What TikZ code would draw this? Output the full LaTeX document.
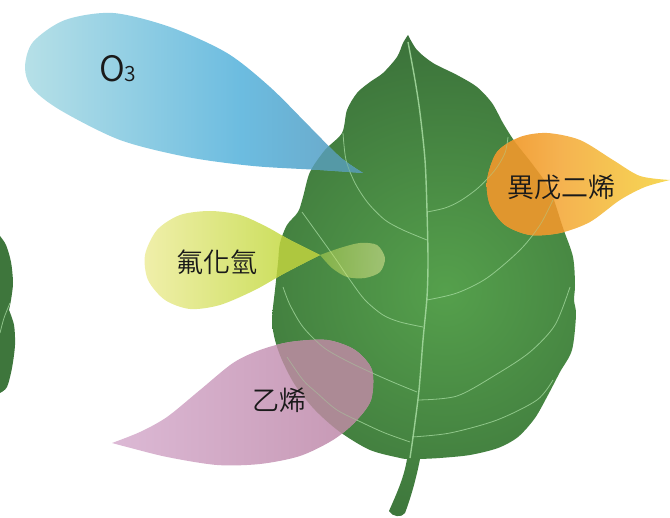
\documentclass[tikz,border=0pt]{standalone}
\usepackage{fontspec}
\newfontfamily\cjk[UprightFont=* DemiLight]{Noto Sans CJK TC}
\definecolor{leafdark}{HTML}{386C38}
\definecolor{leaflight}{HTML}{55A04C}
\definecolor{vein}{HTML}{A8DCA2}
\definecolor{inkc}{HTML}{1A1A1A}
\definecolor{blueA}{HTML}{B6E0E7}
\definecolor{blueB}{HTML}{6CBCE0}
\definecolor{blueC}{HTML}{6AA6C6}
\definecolor{blueleaf}{HTML}{5599A6}
\definecolor{ygA}{HTML}{F0EFAA}
\definecolor{ygB}{HTML}{C4DB4C}
\definecolor{ygleaf}{HTML}{AEC73F}
\definecolor{dropA}{HTML}{C0DC50}
\definecolor{dropB}{HTML}{F0F0A0}
\definecolor{pinkA}{HTML}{DCB9D5}
\definecolor{pinkB}{HTML}{C596B2}
\definecolor{pinkleaf}{HTML}{AC8A95}
\definecolor{orA}{HTML}{F0982F}
\definecolor{orB}{HTML}{F5B250}
\definecolor{orC}{HTML}{F6D855}
\definecolor{orleaf}{HTML}{E0962E}
\pgfdeclarehorizontalshading{o3shade}{100bp}{color(0bp)=(blueA); color(25bp)=(blueA); color(57bp)=(blueB); color(75bp)=(blueC); color(100bp)=(blueC)}
\pgfdeclarehorizontalshading{isoshade}{100bp}{color(0bp)=(orA); color(25bp)=(orA); color(45bp)=(orB); color(75bp)=(orC); color(100bp)=(orC)}
\newcommand\leafoutline{(408,35) -- plot[smooth] coordinates {(408,35) (417,50) (433,63) (457,75) (477,87) (492,103) (503,123) (515,142) (533,165) (550,190) (563,228) (573,257) (575,285) (574,300) (576,315) (572,350) (560,372) (548,395) (535,418) (518,437) (498,448) (470,455) (440,458) (420,459)}
  .. controls (416,480) and (410,500) .. (405,513) .. controls (402,518) and (392,517) .. (389,511) .. controls (396,495) and (404,478) .. (407,459)
  -- plot[smooth] coordinates {(407,459) (400,458) (370,450) (340,432) (315,410) (295,385) (282,360) (275,340) (272,320) (275,290) (278,263) (280,243) (287,225) (298,212) (303,197) (310,172) (325,150) (342,133) (347,110) (357,93) (370,82) (383,73) (397,57) (403,43) (408,35)} -- cycle}
\newcommand\othreeoutline{(363,173) -- plot[smooth] coordinates {(363,173) (340,157) (310,127) (270,87) (227,53) (170,27) (113,13) (65,20) (33,42) (25,67) (32,88) (60,110) (120,140) (187,157) (253,166) (320,170) (363,173)} -- cycle}
\newcommand\hfoutline{(320,255) -- plot[smooth] coordinates {(320,255) (290,240) (267,227) (240,215) (210,211) (180,215) (157,230) (145,255) (148,280) (165,300) (190,309) (220,305) (255,290) (285,273) (320,255)} -- cycle}
\newcommand\ethoutline{(112,443) -- plot[smooth] coordinates {(112,443) (140,432) (167,417) (200,390) (233,363) (260,350) (290,342) (327,340) (355,350) (372,370) (371,400) (355,422) (333,440) (300,456) (260,464) (217,465) (167,457) (127,447) (112,443)} -- cycle}
\newcommand\isooutline{(670,180) -- plot[smooth] coordinates {(670,180) (640,176) (613,160) (580,140) (547,133) (520,137) (497,152) (487,180) (490,205) (505,225) (530,235) (560,233) (590,222) (620,200) (645,187) (670,180)} -- cycle}
% all veins of the main leaf
\newcommand\leafveins[1]{%
\draw[midrib,#1] plot[smooth] coordinates {(408,42) (415,80) (420,113) (425,160) (427,210) (428,260) (427,297) (423,340) (419,390) (414,430) (410,458)};
\draw[veinline,#1] plot[smooth] coordinates {(427,212) (445,208) (460,201) (478,188) (495,170) (505,153) (508,137)};
\draw[veinline,#1] plot[smooth] coordinates {(427,300) (457,293) (487,278) (520,250) (540,225) (553,200)};
\draw[veinline,#1] plot[smooth] coordinates {(418,400) (457,396) (497,374) (530,352) (555,325) (570,287)};
\draw[veinline,#1] plot[smooth] coordinates {(412,437) (450,433) (497,420) (537,400) (553,380)};
\draw[veinline,#1] plot[smooth] coordinates {(427,240) (403,230) (385,220) (368,203) (355,183) (346,160) (343,133)};
\draw[veinline,#1] plot[smooth] coordinates {(423,327) (400,322) (383,315) (365,300) (350,280) (335,258) (320,237) (302,212)};
\draw[veinline,#1] plot[smooth] coordinates {(417,392) (395,383) (370,372) (345,360) (323,347) (303,327) (290,305) (283,287)};
\draw[veinline,#1] plot[smooth] coordinates {(410,442) (385,433) (363,423) (337,410) (317,393) (303,380) (287,357)};}
% a bubble where it lies on the leaf: flat tint with faint veins
\newcommand\leafoverlap[2]{%
\begin{scope}
  \clip #1;
  \clip \leafoutline;
  \fill[#2] (0,0) rectangle (670,518);
  \leafveins{opacity=0.4}
\end{scope}}
\begin{document}
\begin{tikzpicture}[x=1pt,y=-1pt,
  veinline/.style={draw=vein, line width=0.8pt, opacity=0.75},
  midrib/.style={draw=vein, line width=1.4pt, opacity=0.85},
  label/.style={text=inkc, inner sep=0pt, font=\cjk\fontsize{27}{30}\selectfont}]
\useasboundingbox (0,0) rectangle (670,518);

% partial leaf at the left border
\fill[leafdark!80!leaflight] (0,236) -- plot[smooth] coordinates {(0,236) (6,245) (11,262) (13,283) (11,300) (9,310)}
  -- plot[smooth] coordinates {(9,310) (14,325) (15,345) (12,368) (7,387) (0,393)} -- cycle;
\draw[veinline] plot[smooth] coordinates {(10,303) (4,318) (0,333)};

% main leaf
\begin{scope}
  \clip \leafoutline;
  \shade[inner color=leaflight, outer color=leafdark] (445,290) circle[radius=290];
\end{scope}
\leafveins{}

% O3 bubble
\shade[shading=o3shade] \othreeoutline;
\leafoverlap{\othreeoutline}{blueleaf}
\node[text=inkc, inner sep=0pt, anchor=base west] (o3) at (99,82) {\cjk\fontsize{35}{38}\selectfont O\fontsize{21}{24}\selectfont 3};

% hydrogen fluoride bubble and its drop on the leaf
\shade[left color=ygA, right color=ygB] \hfoutline;
\leafoverlap{\hfoutline}{ygleaf}
\shade[left color=dropA, right color=dropB, opacity=0.5]
  (320,255) -- plot[smooth] coordinates {(320,255) (340,248) (360,243) (377,245) (385,258) (380,272) (365,278) (347,277) (332,268) (320,255)} -- cycle;
\node[label] (hf) at (217,262) {氟化氫};

% ethylene bubble
\shade[left color=pinkA, right color=pinkB] \ethoutline;
\leafoverlap{\ethoutline}{pinkleaf}
\node[label] (eth) at (279,400) {乙烯};

% isoprene bubble
\shade[shading=isoshade] \isooutline;
\leafoverlap{\isooutline}{orleaf}
\node[label] (iso) at (561,187) {異戊二烯};
\end{tikzpicture}
\end{document}
